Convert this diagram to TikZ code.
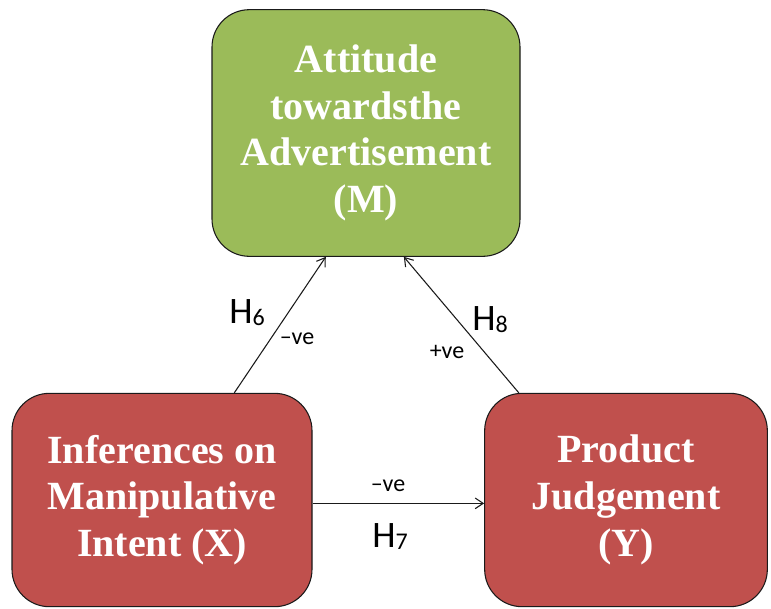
\documentclass[tikz,border=0pt]{standalone}
\usepackage{fontspec}
\setmainfont{Liberation Serif}
\newfontfamily\hypfont{Carlito}
\usepackage{tikz}
\usepackage{xcolor}
\usetikzlibrary{arrows.meta,positioning,calc}
\definecolor{boxgreen}{HTML}{9BBB59}
\definecolor{boxred}{HTML}{C0504D}
\definecolor{ink}{HTML}{1A1A1A}
\tikzset{
  varbox/.style={draw=ink,line width=0.8pt,rounded corners=28pt,
                 align=center,inner sep=4pt,text=white,
                 font=\fontsize{30}{35}\selectfont\bfseries},
  medbox/.style={varbox,fill=boxgreen,minimum width=231pt,minimum height=185pt},
  ivbox/.style={varbox,fill=boxred,minimum width=225pt,minimum height=160pt},
  dvbox/.style={varbox,fill=boxred,minimum width=212pt,minimum height=160pt},
  patharr/.style={-{Straight Barb[length=6pt,width=8pt]},line width=0.8pt,
                  draw=ink},
  hyplabel/.style={font=\hypfont\fontsize{28}{28}\selectfont,inner sep=0pt},
  signlabel/.style={font=\hypfont\fontsize{18}{18}\selectfont,inner sep=0pt}
}
\newcommand{\hyp}[1]{H\raisebox{-1.5pt}{\fontsize{18}{18}\selectfont #1}}

\begin{document}
\begin{tikzpicture}[x=0.75pt,y=-0.75pt]
    \path[use as bounding box] (0,0) rectangle (771,608);

    \node[medbox] (med) at (366,133)
      {Attitude\\towardsthe\\Advertisement\\(M)};
    \node[ivbox] (ind) at (162,500)
      {Inferences on\\Manipulative\\Intent (X)};
    \node[dvbox] (dep) at (626,500)
      {Product\\Judgement\\(Y)};

    \draw[patharr] (ind.56) -- (med.252);
    \draw[patharr] (dep.135) -- (med.287);
    \draw[patharr] ([yshift=-2.5pt]ind.east) -- ([yshift=-2.5pt]dep.west);

    \node[hyplabel] (hsix) at (247,313) {\hyp{6}};
    \node[signlabel] (sixsign) at (297,339) {\textendash ve};
    \node[hyplabel] (height) at (490,320) {\hyp{8}};
    \node[signlabel] (eightsign) at (447,352) {+ve};
    \node[signlabel] (sevensign) at (388,486) {\textendash ve};
    \node[hyplabel] (hseven) at (390,537) {\hyp{7}};
  \end{tikzpicture}
\end{document}
